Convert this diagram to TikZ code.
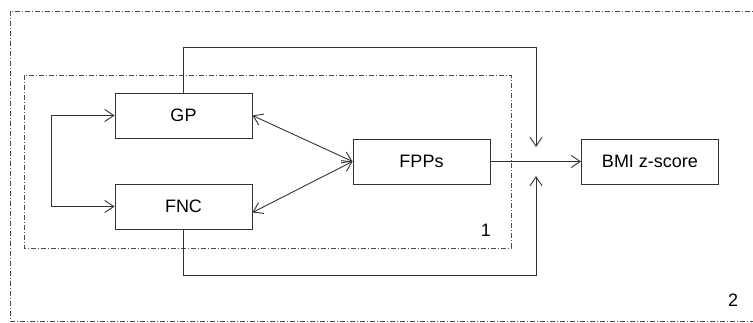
\documentclass[tikz,border=0pt]{standalone}
\usepackage{fontspec}
\setmainfont{Liberation Sans}
\usetikzlibrary{arrows.meta}

\begin{document}
\begin{tikzpicture}[
  x=1pt,y=-1pt, % one unit per point, y running downwards
  >={Straight Barb[length=9pt,width=12pt]}, % open arrow heads
  line width=0.9pt,
  draw=black!80,
  every node/.style={font=\fontsize{18}{20}\selectfont},
  block/.style={draw=black!80,rectangle,minimum width=137pt,minimum height=45pt,inner sep=0pt}, % style of the boxes
  frame/.style={draw=black!70,line width=0.7pt,dash pattern=on 5pt off 2pt on 1pt off 2pt} % style of the dash-dot frames
  ]

  \useasboundingbox (0,0) rectangle (753,323);

  % frames
  \draw[frame] (10,11) rectangle (760,321);
  \draw[frame] (24,75) rectangle (511,248);
  \node (lblInner) at (486,230) {1};
  \node (lblOuter) at (733,300) {2};

  \node[block] (GP) at (183.5,115.5) {GP};
  \node[block] (FNC) at (183.5,206.5) {FNC};
  \node[block] (FPPs) at (421.5,161.5) {FPPs};
  \node[block] (BMI) at (650,161.5) {BMI z-score};

  \coordinate (inTop) at (536,147);
  \coordinate (inBot) at (536,176);

  \draw[<->] (GP.west) -- ++(-63,0) |- (FNC.west);
  \draw[<->] (GP.east) -- (FPPs.west);
  \draw[<->] ([yshift=-6pt]FNC.east) -- (FPPs.west);
  \draw[->] (FPPs.east) -- (BMI.west);
  \draw[->] (GP.north) -- ++(0,-45) -| (inTop);
  \draw[->] (FNC.south) -- ++(0,46) -| (inBot);
\end{tikzpicture}
\end{document}
